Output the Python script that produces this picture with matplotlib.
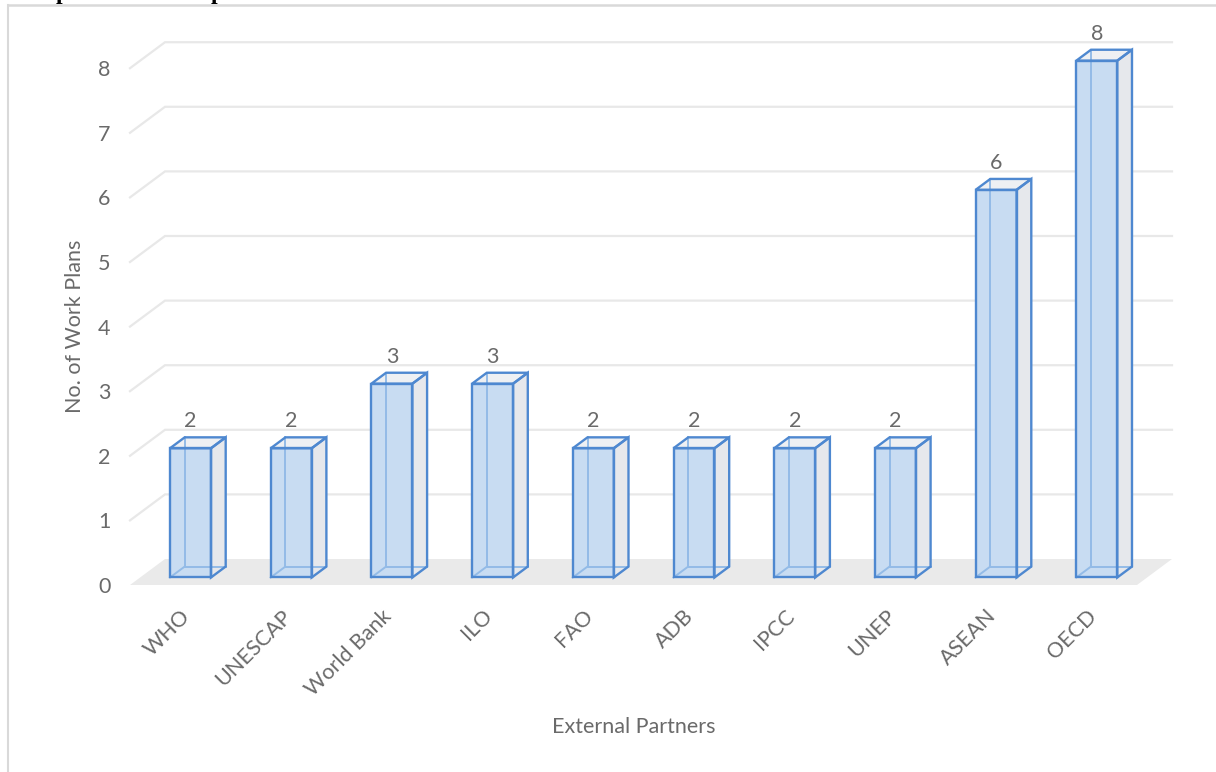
import matplotlib
matplotlib.use('Agg')
import matplotlib.pyplot as plt
from matplotlib.patches import Polygon
from matplotlib.lines import Line2D

# ---------------- data ----------------
categories = ['WHO', 'UNESCAP', 'World Bank', 'ILO', 'FAO', 'ADB', 'IPCC', 'UNEP', 'ASEAN', 'OECD']
values = [2, 2, 3, 3, 2, 2, 2, 2, 6, 8]
y_ticks = [0, 1, 2, 3, 4, 5, 6, 7, 8]
x_title = 'External Partners'
y_title = 'No. of Work Plans'

# ---------------- style ----------------
plt.rcParams['font.family'] = ['Lato', 'DejaVu Sans']
TXT = '#6A6A6A'
FLOOR = '#EAEAEA'
GRID = '#E8E8E8'
FRONT = '#C8DCF2'
SIDE = '#E6E8EC'
TOP = '#EEF0F3'
EDGE = '#4E88D0'
HIDDEN = '#93BBE7'
FS = 15.5

W, H, DPI = 1216, 772, 100
fig = plt.figure(figsize=(W / DPI, H / DPI), dpi=DPI)
ax = fig.add_axes([0, 0, 1, 1])

n = len(categories)
PX_X = 100.7   # pixels per category slot
PX_Y = 64.6    # pixels per value unit
x_left = -0.5 - 130 / PX_X
y_bottom = -(H - 585) / PX_Y
ax.set_xlim(x_left, x_left + W / PX_X)
ax.set_ylim(y_bottom, y_bottom + H / PX_Y)

DX = 35 / PX_X   # depth vector (data units)
DY = 26 / PX_Y


def proj(x, y, d):
    return (x + d * DX, y + d * DY)


# floor
ax.add_patch(Polygon([proj(-0.5, 0, 0), proj(n - 0.5, 0, 0), proj(n - 0.5, 0, 1), proj(-0.5, 0, 1)],
                     closed=True, facecolor=FLOOR, edgecolor='none', zorder=1))

# gridlines (side wall + back wall)
for v in y_ticks[1:]:
    pts = [proj(-0.5, v, 0), proj(-0.5, v, 1), proj(n - 0.5, v, 1)]
    ax.plot([p[0] for p in pts], [p[1] for p in pts], color=GRID, lw=1.6, zorder=1,
            solid_joinstyle='miter')

# bars
d0, d1, hw = 0.29, 0.71, 0.2035
for i, v in enumerate(values):
    x0, x1 = i - hw, i + hw
    front = [proj(x0, 0, d0), proj(x1, 0, d0), proj(x1, v, d0), proj(x0, v, d0)]
    side = [proj(x1, 0, d0), proj(x1, 0, d1), proj(x1, v, d1), proj(x1, v, d0)]
    top = [proj(x0, v, d0), proj(x1, v, d0), proj(x1, v, d1), proj(x0, v, d1)]
    ax.add_patch(Polygon(side, closed=True, facecolor=SIDE, edgecolor='none', zorder=3))
    ax.add_patch(Polygon(top, closed=True, facecolor=TOP, edgecolor='none', zorder=3))
    ax.add_patch(Polygon(front, closed=True, facecolor=FRONT, edgecolor='none', zorder=3))
    # hidden edges seen through the transparent box
    for a, b in [((x0, 0, d1), (x0, v, d1)), ((x0, 0, d1), (x1, 0, d1)), ((x0, 0, d0), (x0, 0, d1))]:
        pa, pb = proj(*a), proj(*b)
        ax.plot([pa[0], pb[0]], [pa[1], pb[1]], color=HIDDEN, lw=1.4, zorder=4)
    for poly in (front, side, top):
        ax.add_patch(Polygon(poly, closed=True, facecolor='none', edgecolor=EDGE, lw=1.7,
                             joinstyle='miter', zorder=5))
    lx, ly = proj(i, v, d0)[0], proj(i, v, d1)[1] + 16 / PX_Y
    ax.text(lx, ly, str(v), ha='center', va='center', color=TXT, fontsize=FS, zorder=6)

# axes: ticks via the library's axes, spines hidden
for s in ax.spines.values():
    s.set_visible(False)
ax.spines['left'].set_position(('data', -0.5))
ax.spines['bottom'].set_position(('data', 0))
ax.set_yticks(y_ticks)
ax.set_yticklabels([str(t) for t in y_ticks])
ax.tick_params(axis='y', length=0, pad=14, labelsize=FS, labelcolor=TXT)
ax.set_xticks([i + 0.0 for i in range(n)])
ax.set_xticklabels(categories, rotation=45, ha='right', va='top', rotation_mode='anchor')
ax.tick_params(axis='x', length=0, pad=15, labelsize=FS, labelcolor=TXT)
ax.patch.set_visible(False)

fig.text(634 / W, 1 - 727 / H, x_title, ha='center', va='center', color=TXT, fontsize=FS)
fig.text(75 / W, 1 - 326 / H, y_title, ha='center', va='center', rotation=90, color=TXT, fontsize=FS)

# chart border (left and top)
fig.add_artist(Line2D([8 / W, 8 / W], [0, 1 - 5 / H], transform=fig.transFigure, color='#D9D9D9', lw=1.5))
fig.add_artist(Line2D([8 / W, 1], [1 - 5 / H, 1 - 5 / H], transform=fig.transFigure, color='#D9D9D9', lw=1.8))

# clipped remains of the page heading above the chart
for px in (56, 211):
    fig.text(px / W, 1 + 1.5 / H, 'p', family='Liberation Serif', fontweight='bold', fontsize=17,
             va='baseline', ha='left', color='black')

fig.savefig('out.png', dpi=DPI)
